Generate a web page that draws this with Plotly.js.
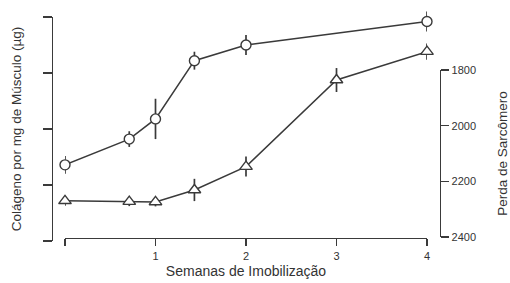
<!DOCTYPE html>
<html>
<head>
<meta charset="utf-8">
<script src="https://cdn.plot.ly/plotly-3.0.1.min.js"></script>
<style>html,body{margin:0;padding:0;background:#fff}#chart{width:510px;height:283px}</style>
</head>
<body>
<div id="chart"></div>
<script>
// ---- data ----
const weeksColageno = [0, 0.71, 1, 1.43, 2, 4];
const colageno = [6.8, 9.1, 10.9, 16.1, 17.5, 19.6];
const colagenoErr = [0.8, 0.7, 1.8, 0.8, 0.9, 0.9];

const weeksSarcomero = [0, 0.71, 1, 1.43, 2, 3, 4];
const sarcomero = [2270, 2273, 2274, 2231, 2147, 1836, 1734];
const sarcomeroErr = [18, 16, 16, 40, 36, 43, 29];

const xTickVals = [0, 1, 2, 3, 4];
const xTickText = ['', '1', '2', '3', '4'];
const leftTickVals = [0, 5, 10, 15, 20];
const rightTickVals = [1800, 2000, 2200, 2400];

// ---- geometry (pixels) ----
const W = 510, H = 283;
const plotLeft = 65, plotRight = 427;     // x = 0 .. 4
const plotTop = 3, plotBottom = 238;       // data area
const leftAxisX = 52, leftTop = 17, leftBottom = 241;   // 20 .. 0
const rightAxisX = 440, rightTop = 70, rightBottom = 237; // 1800 .. 2400
const fy = p => (H - p) / H;
const fx = p => p / W;

// ranges of the invisible data axes, matched to the visible axes
const lScale = 20 / (leftBottom - leftTop);
const yDataRange = [(leftBottom - plotBottom) * lScale, (leftBottom - plotTop) * lScale];
const rScale = 600 / (rightBottom - rightTop);
const y2DataRange = [1800 + (plotBottom - rightTop) * rScale, 1800 + (plotTop - rightTop) * rScale];

const ink = '#3a3a3a';
const fam = 'Liberation Sans, Arial, sans-serif';
const tickFont = {family: fam, size: 11, color: '#333'};
const titleFont = {family: fam, size: 13.5, color: '#333'};
const xTitleFont = {family: fam, size: 14, color: '#333'};

const traces = [
  {
    x: weeksColageno, y: colageno, yaxis: 'y', xaxis: 'x',
    type: 'scatter', mode: 'lines+markers', cliponaxis: false,
    line: {color: ink, width: 1.5},
    marker: {symbol: 'circle', size: 10, color: '#fff', line: {color: ink, width: 1.4}},
    error_y: {type: 'data', array: colagenoErr, visible: true, color: ink, thickness: 1.7, width: 0},
    showlegend: false, hoverinfo: 'x+y'
  },
  {
    x: weeksSarcomero, y: sarcomero, yaxis: 'y2', xaxis: 'x',
    type: 'scatter', mode: 'lines+markers', cliponaxis: false,
    line: {color: ink, width: 1.5},
    marker: {symbol: 'triangle-up', size: 11, color: '#fff', line: {color: ink, width: 1.4}},
    error_y: {type: 'data', array: sarcomeroErr, visible: true, color: ink, thickness: 1.7, width: 0},
    showlegend: false, hoverinfo: 'x+y'
  },
  // empty carriers so the visible scale axes are drawn
  {x: [null], y: [null], xaxis: 'x', yaxis: 'y3', type: 'scatter', mode: 'markers', showlegend: false, hoverinfo: 'skip'},
  {x: [null], y: [null], xaxis: 'x', yaxis: 'y4', type: 'scatter', mode: 'markers', showlegend: false, hoverinfo: 'skip'}
];

const hiddenAxis = {visible: false, showgrid: false, zeroline: false, fixedrange: true};

const layout = {
  width: W, height: H,
  margin: {l: 0, r: 0, t: 0, b: 0},
  paper_bgcolor: '#fff', plot_bgcolor: 'rgba(0,0,0,0)',
  font: tickFont,
  showlegend: false,
  xaxis: {
    domain: [fx(plotLeft), fx(plotRight)], range: [0, 4],
    anchor: 'y',
    tickmode: 'array', tickvals: xTickVals, ticktext: xTickText,
    ticks: 'outside', ticklen: 7, tickwidth: 1.4, tickcolor: ink,
    showline: true, linecolor: ink, linewidth: 1.4,
    showgrid: false, zeroline: false,
    tickfont: tickFont,
    title: {text: 'Semanas de Imobilização', font: xTitleFont, standoff: 5}
  },
  yaxis: Object.assign({domain: [fy(plotBottom), fy(plotTop)], range: yDataRange, anchor: 'x'}, hiddenAxis),
  yaxis2: Object.assign({domain: [fy(plotBottom), fy(plotTop)], range: y2DataRange, overlaying: 'y', anchor: 'x'}, hiddenAxis),
  yaxis3: {
    domain: [fy(leftBottom), fy(leftTop)], range: [0, 20],
    anchor: 'free', position: fx(leftAxisX), side: 'left',
    tickmode: 'array', tickvals: leftTickVals, showticklabels: false,
    ticks: 'outside', ticklen: 9, tickwidth: 1.4, tickcolor: ink,
    showline: true, linecolor: ink, linewidth: 1.4,
    showgrid: false, zeroline: false,
    title: {text: 'Colágeno por mg de Músculo (µg)', font: titleFont, standoff: 17}
  },
  yaxis4: {
    domain: [fy(rightBottom), fy(rightTop)], range: [2400, 1800],
    anchor: 'free', position: fx(rightAxisX), side: 'right',
    tickmode: 'array', tickvals: rightTickVals,
    ticks: 'outside', ticklen: 8, tickwidth: 1.4, tickcolor: ink,
    showline: true, linecolor: ink, linewidth: 1.4,
    showgrid: false, zeroline: false,
    tickfont: tickFont,
    title: {text: 'Perda de Sarcômero', font: titleFont, standoff: 30}
  }
};

Plotly.newPlot('chart', traces, layout, {staticPlot: true, displayModeBar: false});
</script>
</body>
</html>
